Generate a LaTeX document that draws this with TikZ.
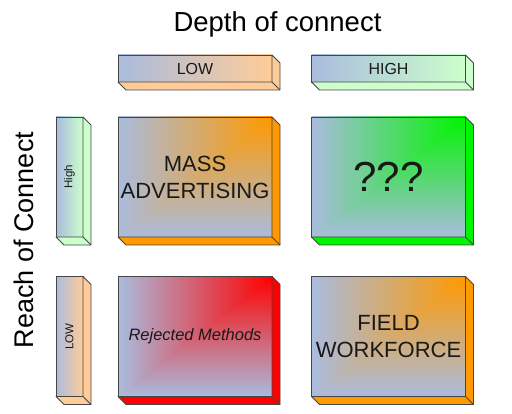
\documentclass[tikz,border=0pt]{standalone}
\usepackage{fontspec}
\setmainfont{Liberation Sans}
\usepackage{graphicx}

\definecolor{facebase}{RGB}{170,188,222}
\definecolor{facetop}{RGB}{255,153,0}
\definecolor{orangeA}{RGB}{255,153,0}
\definecolor{peach}{RGB}{255,204,153}
\definecolor{mint}{RGB}{204,255,204}
\definecolor{limeA}{RGB}{0,245,0}
\definecolor{redA}{RGB}{255,0,0}
\definecolor{edgegrey}{RGB}{70,70,70}

% gradient "from corner": colour at top right, base colour along left and bottom
\pgfdeclarefunctionalshading[facetop]{cornerfade}{\pgfpoint{-50bp}{-50bp}}{\pgfpoint{50bp}{50bp}}
{\pgfshadecolortorgb{facetop}{\tp}\pgfshadecolortorgb{facebase}{\bs}}
{25 add 50 div exch 25 add 50 div 2 copy gt {exch} if pop
 dup 0 lt {pop 0} if dup 1 gt {pop 1} if
 dup \tpred\space \bsred\space sub mul \bsred\space add exch
 dup \tpgreen\space \bsgreen\space sub mul \bsgreen\space add exch
 \tpblue\space \bsblue\space sub mul \bsblue\space add}

\begin{document}
\begin{tikzpicture}[
  x=1pt, y=-1pt,
  face/.style={draw=edgegrey, line width=0.8pt, inner sep=0pt, outer sep=0pt, text=black!90},
  facetone/.code={\colorlet{facetop}{#1}},
  cell/.style={face, minimum width=154pt, minimum height=120pt, align=center, shade, shading=cornerfade, facetone=#1,
    font=\fontsize{22}{27}\selectfont},
  hbar/.style={face, minimum width=154pt, minimum height=27pt, left color=facebase, right color=#1,
    font=\fontsize{16}{19}\selectfont},
  vbar/.style={face, minimum width=27pt, minimum height=120pt, left color=facebase, right color=#1,
    font=\fontsize{11.5}{14}\selectfont},
  side/.style={draw=edgegrey, line width=0.8pt, line join=round}
]
  \useasboundingbox (0,0) rectangle (512,414);
  % titles
  \node[font=\fontsize{27.5}{33}\selectfont, anchor=base] (depthTitle) at (277.5,32) {Depth of connect};
  \node[font=\fontsize{27}{32}\selectfont, rotate=90, anchor=base] (reachTitle) at (33,240) {Reach of Connect};
  % headers
  \node[hbar=peach] (lowCol)  at (195,68.5)   {LOW};
  \node[hbar=mint]  (highCol) at (388.5,68.5) {HIGH};
  \node[vbar=mint]  (highRow) at (69.5,177)   {\rotatebox{90}{High}};
  \node[vbar=peach] (lowRow)  at (69.5,336.5) {\rotatebox{90}{LOW}};
  % cells
  \node[cell=orangeA] (massAd) at (195,177) {MASS\\ADVERTISING};
  \node[cell=limeA, font=\fontsize{42}{46}\selectfont] (unknown) at (388.5,177) {???};
  \node[cell=redA, font=\fontsize{16.5}{20}\selectfont\itshape] (rejected) at (195,336.5) {Rejected Methods};
  \node[cell=orangeA] (fieldForce) at (388.5,336.5) {FIELD\\WORKFORCE};
  % depth faces
  \foreach \n/\c in {lowCol/peach, highCol/mint, highRow/mint, lowRow/peach,
      massAd/orangeA, unknown/limeA, rejected/redA, fieldForce/orangeA}{
    \filldraw[side, fill=\c] (\n.north east) -- ([shift={(8,8)}]\n.north east)
      -- ([shift={(8,8)}]\n.south east) -- ([shift={(8,8)}]\n.south west)
      -- (\n.south west) -- (\n.south east) -- cycle;
    \draw[side] (\n.south east) -- ([shift={(8,8)}]\n.south east);
  }
\end{tikzpicture}
\end{document}
